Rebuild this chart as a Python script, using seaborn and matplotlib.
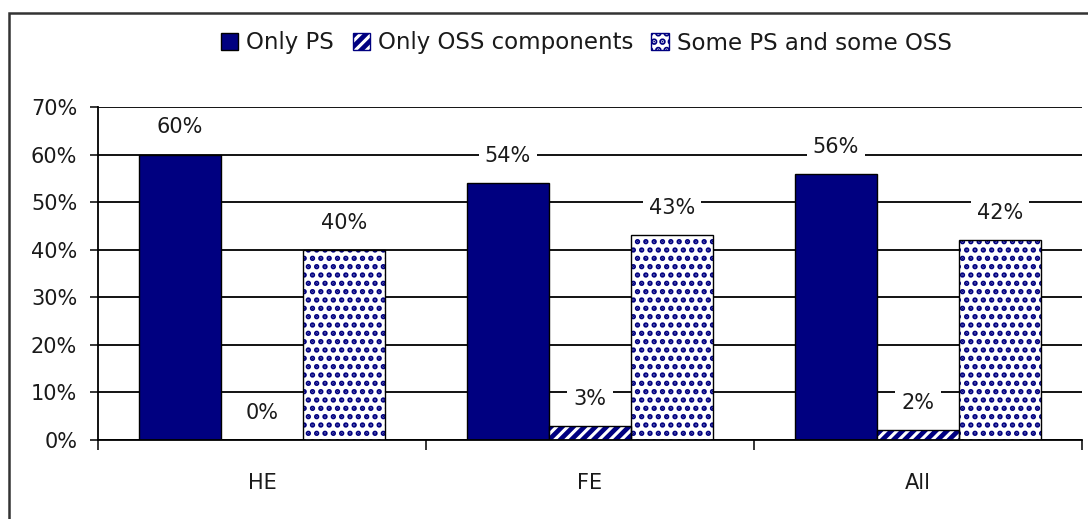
import matplotlib
matplotlib.use("Agg")
import matplotlib.pyplot as plt
from matplotlib.patches import Rectangle, Patch
from matplotlib.ticker import FixedLocator
import seaborn as sns
import pandas as pd

# Survey shares (percent) by sector
categories = ["HE", "FE", "All"]
series = ["Only PS", "Only OSS components", "Some PS and some OSS"]
only_ps = [60, 54, 56]
only_oss = [0, 3, 2]
mixed = [40, 43, 42]
y_ticks = [0, 10, 20, 30, 40, 50, 60, 70]

NAVY = "#000080"
TXT = "#1a1a1a"
FS = 15

rows = []
for name, vals in zip(series, [only_ps, only_oss, mixed]):
    for cat, v in zip(categories, vals):
        rows.append({"sector": cat, "type": name, "share": v / 100})
df = pd.DataFrame(rows)

sns.set_style("white")
plt.rcParams["font.family"] = ["DejaVu Sans"]
plt.rcParams["hatch.linewidth"] = 3.4

fig = plt.figure(figsize=(10.88, 5.19), dpi=100)
ax = fig.add_axes([98 / 1088, 1 - 440 / 519, (1082 - 98) / 1088, (440 - 107) / 519])

sns.barplot(data=df, x="sector", y="share", hue="type", order=categories,
            hue_order=series, palette=[NAVY, "white", "white"], saturation=1,
            width=0.75, edgecolor="black", linewidth=1, legend=False, ax=ax,
            zorder=2)

hatches = [None, "///", ".."]
for cont, h in zip(ax.containers, hatches):
    for p in cont:
        if h is None:
            continue
        p.set_hatch(h)
        p.set_edgecolor(NAVY)
        p.set_linewidth(0)
        if h == ".." and hasattr(p, "set_hatch_linewidth"):
            p.set_hatch_linewidth(2.6)
        ax.add_patch(Rectangle(p.get_xy(), p.get_width(), p.get_height(),
                               fill=False, edgecolor="black", lw=1, zorder=2.1))

# value labels above each bar
for cont, vals in zip(ax.containers, [only_ps, only_oss, mixed]):
    for p, v in zip(cont, vals):
        ax.annotate(f"{v}%", (p.get_x() + p.get_width() / 2, v / 100),
                    xytext=(0, 19.5), textcoords="offset points",
                    ha="center", va="center", fontsize=FS, color=TXT,
                    bbox=dict(boxstyle="square,pad=0.3", fc="white", ec="none"),
                    zorder=5)

ax.set_xlim(-0.5, 2.5)
ax.set_ylim(0, 0.7)
ax.yaxis.set_major_locator(FixedLocator([t / 100 for t in y_ticks]))
ax.set_yticklabels([f"{t}%" for t in y_ticks])
ax.set_xlabel("")
ax.set_ylabel("")

ax.set_axisbelow(True)
ax.yaxis.grid(True, color="black", lw=1.3)
ax.xaxis.grid(False)
for s in ["top", "right"]:
    ax.spines[s].set_visible(False)
for s in ["left", "bottom"]:
    ax.spines[s].set_color("black")
    ax.spines[s].set_linewidth(1.3)

ax.tick_params(axis="y", which="major", direction="out", length=6, width=1.3,
               pad=9, labelsize=FS, labelcolor=TXT, left=True)
ax.xaxis.set_minor_locator(FixedLocator([-0.5, 0.5, 1.5, 2.5]))
ax.tick_params(axis="x", which="major", length=0, pad=24, labelsize=FS,
               labelcolor=TXT)
ax.tick_params(axis="x", which="minor", direction="out", length=7, width=1.3,
               bottom=True)

handles = [Patch(facecolor=NAVY, edgecolor="black", lw=1),
           Patch(facecolor="white", edgecolor=NAVY, hatch="///", lw=1),
           Patch(facecolor="white", edgecolor=NAVY, hatch="..", lw=1)]
fig.legend(handles, series, loc="center", bbox_to_anchor=(0.539, 1 - 43 / 519),
           ncol=3, frameon=False, fontsize=16.5, handlelength=0.75,
           handleheight=0.75, handletextpad=0.35, columnspacing=0.8,
           labelcolor=TXT)

# chart area border
fig.add_artist(Rectangle((9 / 1088, -0.05), 1.2, 1 - 13 / 519 + 0.05,
                         transform=fig.transFigure, fill=False,
                         edgecolor="#333333", lw=1.8))

fig.savefig("out.png", dpi=100, facecolor="white")
